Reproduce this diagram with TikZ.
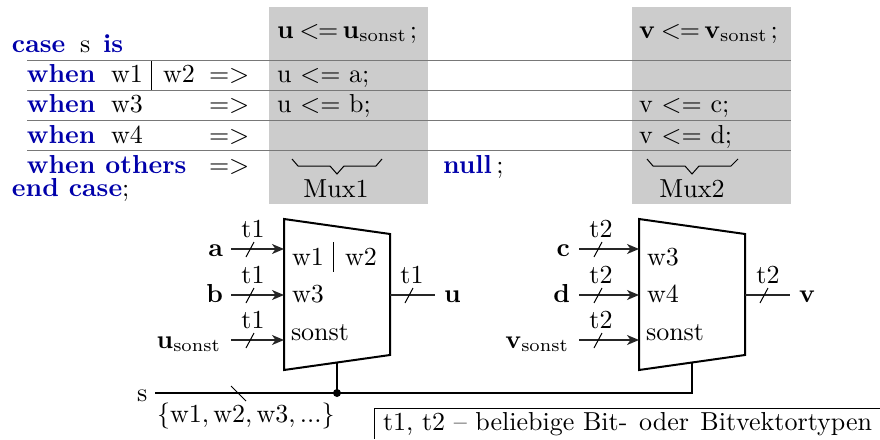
\documentclass[tikz,border=0pt]{standalone}
\usetikzlibrary{arrows.meta,calc}
\definecolor{kw}{RGB}{0,0,170}
\definecolor{panel}{RGB}{204,204,204}
\definecolor{rule}{RGB}{120,120,120}
\newcommand{\kwd}[1]{\textcolor{kw}{\textbf{#1}}}
\tikzset{
  lbl/.style={anchor=base west,inner sep=0pt,outer sep=0pt,scale=2.6},
  lblr/.style={lbl,anchor=base east},
  lblc/.style={lbl,anchor=base},
  panelbox/.style={fill=panel,draw=none},
  rowrule/.style={draw=rule,line width=1.1pt},
  muxbox/.style={draw=black,line width=2pt,line join=miter,fill=white},
  wire/.style={draw=black!85,line width=1.3pt},
  inwire/.style={wire,-{Stealth[length=12pt,width=10pt,inset=3.5pt]}},
  bus/.style={draw=black,line width=2.1pt,line join=miter},
  thin tick/.style={draw=black,line width=1pt},
  bracepath/.style={draw=black,line width=1pt},
  sepbar/.style={draw=black,line width=1pt},
}
\begin{document}
\begin{tikzpicture}[x=1pt,y=-1pt]
\useasboundingbox (0,0) rectangle (880,439);
% panels
\fill[panelbox] (269,7) rectangle (428,204);
\fill[panelbox] (632,7) rectangle (791,204);
% row rules
\foreach \y in {60.5,90.5,120.5,150.5} \draw[rowrule] (27,\y) -- (791,\y);
% code
\node[lbl] (kcase) at (12,52.5) {\kwd{case}};
\node[lbl] (ks) at (80,52.5) {s};
\node[lbl] (kis) at (103,52.5) {\kwd{is}};
\node[lbl] (whA) at (27,82.5) {\kwd{when}};
\node[lbl] (wA) at (111,82.5) {w1};
\node[lbl] (wB) at (163,82.5) {w2};
\draw[sepbar] (151.5,61) -- (151.5,90);
\node[lbl] (arA) at (209,82.5) {=>};
\node[lbl] (whB) at (27,112.5) {\kwd{when}};
\node[lbl] (wC) at (111,112.5) {w3};
\node[lbl] (arB) at (209,112.5) {=>};
\node[lbl] (whC) at (27,143) {\kwd{when}};
\node[lbl] (wD) at (111,143) {w4};
\node[lbl] (arC) at (209,143) {=>};
\node[lbl] (whD) at (27,173) {\kwd{when others}};
\node[lbl] (arD) at (209,173) {=>};
\node[lbl] (kend) at (12,196.5) {\kwd{end case};};
\node[lbl] (knull) at (443,173) {\kwd{null}\,;};
% assignments
\node[lbl] (defu) at (277,38) {$\mathbf{u}\mkern4mu{<}\mkern-1mu{=}\,\mathbf{u}_{\mathrm{sonst}}\mkern2mu;$};
\node[lbl] (defv) at (639,38) {$\mathbf{v}\mkern4mu{<}\mkern-1mu{=}\,\mathbf{v}_{\mathrm{sonst}}\mkern2mu;$};
\node[lbl] (ua) at (277,82.5) {u <= a;};
\node[lbl] (ub) at (277,112.5) {u <= b;};
\node[lbl] (vc) at (639,112.5) {v <= c;};
\node[lbl] (vd) at (639,143) {v <= d;};
% braces
\draw[bracepath] (292,159) -- (298,166) -- (330,166) -- (337,174) -- (344,166) -- (376,166) -- (382,159);
\draw[bracepath] (647,159) -- (653,166) -- (685,166) -- (692,174) -- (699,166) -- (731,166) -- (738,159);
\node[lblc] (muxa) at (336,197) {Mux1};
\node[lblc] (muxb) at (692,197) {Mux2};
% mux shapes
\draw[muxbox] (284,219) coordinate (mAtl) -- (390,234) coordinate (mAtr) -- (390,355) coordinate (mAbr) -- (284,370) coordinate (mAbl) -- cycle;
\draw[muxbox] (639,219) coordinate (mBtl) -- (745,234) coordinate (mBtr) -- (745,355) coordinate (mBbr) -- (639,370) coordinate (mBbl) -- cycle;
% mux1 inner
\node[lbl] (iA) at (292,265) {w1};
\draw[sepbar] (333,242) -- (333,272);
\node[lbl] (iB) at (345,265) {w2};
\node[lbl] (iC) at (292,302) {w3};
\node[lbl] (iD) at (291,340) {sonst};
% mux2 inner
\node[lbl] (jA) at (647,265) {w3};
\node[lbl] (jB) at (647,302) {w4};
\node[lbl] (jC) at (646,340) {sonst};
% inputs mux1
\node[lblr] (na) at (223,256) {$\mathbf{a}$};
\node[lblr] (nb) at (223,302) {$\mathbf{b}$};
\node[lblr] (nus) at (221,348) {$\mathbf{u}_{\mathrm{sonst}}$};
\foreach \y/\n in {249/a,295/b,340/c}{
  \coordinate (sA\n) at (231,\y);
  \coordinate (eA\n) at (284,\y);
  \draw[inwire] (sA\n) -- (eA\n);
  \draw[thin tick] (246,\y+8) -- (254,\y-7);
  \node[lblc] (lA\n) at (253,\y-12) {t1};
}
% output mux1
\coordinate (oAs) at (390,295); \coordinate (oAe) at (435,295);
\draw[wire] (oAs) -- (oAe);
\draw[thin tick] (405,303) -- (413,288);
\node[lblc] (lAo) at (412,283) {t1};
\node[lbl] (nu) at (444,302) {$\mathbf{u}$};
% inputs mux2
\node[lblr] (nc) at (570,256) {$\mathbf{c}$};
\node[lblr] (nd) at (570,302) {$\mathbf{d}$};
\node[lblr] (nvs) at (569,348) {$\mathbf{v}_{\mathrm{sonst}}$};
\foreach \y/\n in {249/a,295/b,340/c}{
  \coordinate (sB\n) at (579,\y);
  \coordinate (eB\n) at (639,\y);
  \draw[inwire] (sB\n) -- (eB\n);
  \draw[thin tick] (594,\y+8) -- (602,\y-7);
  \node[lblc] (lB\n) at (601,\y-12) {t2};
}
% output mux2
\coordinate (oBs) at (745,295); \coordinate (oBe) at (790,295);
\draw[wire] (oBs) -- (oBe);
\draw[thin tick] (760,303) -- (768,288);
\node[lblc] (lBo) at (768,283) {t2};
\node[lbl] (nv) at (799,302) {$\mathbf{v}$};
% select bus
\node[lbl] (ns) at (137,401) {s};
\coordinate (bs) at (155,393);
\coordinate (bj) at (337,393);
\coordinate (bc) at (692,393);
\coordinate (mAb) at (337,363);
\coordinate (mBb) at (692,363);
\draw[bus] (bs) -- (bj) -- (bc) -- (mBb);
\draw[bus] (bj) -- (mAb);
\fill[black] (bj) circle (4);
\draw[thin tick] (231,386) -- (246,401);
\node[lbl] (nset) at (157,422) {$\{\mathrm{w1},\mathrm{w2},\mathrm{w3},...\}$};
% note
\draw[sepbar] (880,408) -- (374.5,408) -- (374.5,439);
\node[lbl] (note) at (383,430) {t1, t2 -- beliebige Bit-\hspace{1.2pt} oder\hspace{1pt} Bitvektortypen};
\end{tikzpicture}
\end{document}
